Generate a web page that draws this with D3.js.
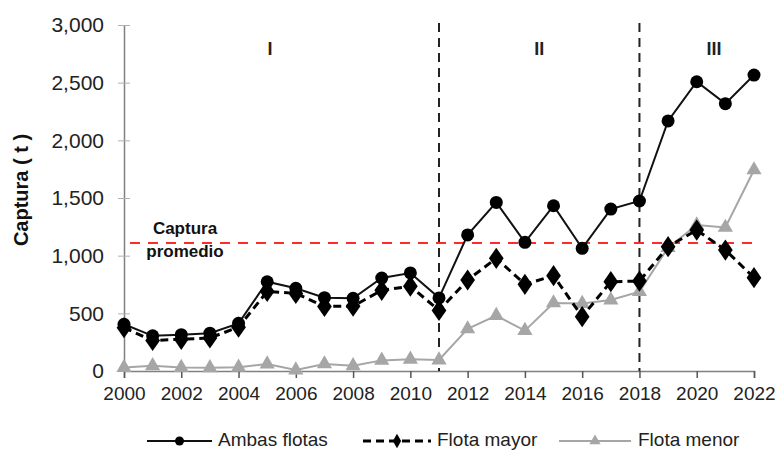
<!DOCTYPE html>
<html>
<head>
<meta charset="utf-8">
<script src="https://cdn.jsdelivr.net/npm/d3@7"></script>
<style>
  html, body { margin: 0; padding: 0; background: #fff; }
  svg { display: block; font-family: "Liberation Sans", Arial, sans-serif; }
</style>
</head>
<body>
<svg id="chart" width="777" height="450"></svg>
<script>
const years = d3.range(2000, 2023);
const ambasFlotas = [405, 305, 315, 328, 413, 774, 717, 636, 630, 806, 850, 634, 1180, 1462, 1116, 1433, 1064, 1404, 1474, 2168, 2508, 2318, 2566];
const flotaMayor  = [375, 265, 275, 287, 380, 690, 673, 560, 562, 700, 735, 525, 789, 977, 752, 826, 471, 774, 780, 1078, 1222, 1049, 809];
const flotaMenor  = [30, 45, 30, 28, 32, 60, 8, 61, 45, 92, 101, 95, 365, 480, 350, 590, 585, 615, 688, 1069, 1266, 1245, 1743];
const capturaPromedio = 1110;
const periodBreaks = [2011, 2018];
const periodLabels = [{label: "I", year: 2005.1}, {label: "II", year: 2014.5}, {label: "III", year: 2020.6}];
const yTicks = [0, 500, 1000, 1500, 2000, 2500, 3000];
const xTicks = d3.range(2000, 2023, 2);
const seriesNames = ["Ambas flotas", "Flota mayor", "Flota menor"];

const svg = d3.select("#chart");
const x = d3.scaleLinear().domain([2000, 2022]).range([124, 754]);
const y = d3.scaleLinear().domain([0, 3000]).range([371, 25]);

// y axis
const yAxis = d3.axisLeft(y).tickValues(yTicks).tickSize(0).tickPadding(20)
  .tickFormat(d3.format(","));
const gy = svg.append("g").attr("transform", "translate(124,0)").call(yAxis);
gy.select(".domain").attr("stroke", "#808080").attr("stroke-width", 1.5);
gy.selectAll(".tick text").attr("font-size", 21).attr("fill", "#222").attr("font-family", "Liberation Sans, Arial, sans-serif");
gy.selectAll(".tick").filter(d => d > 0).append("line")
  .attr("x1", -6).attr("x2", 6).attr("stroke", "#b0b0b0").attr("stroke-width", 1);

// x axis
const xAxis = d3.axisBottom(x).tickValues(xTicks).tickSize(7).tickPadding(9)
  .tickFormat(d3.format("d"));
const gx = svg.append("g").attr("transform", "translate(0,371)").call(xAxis);
gx.select(".domain").attr("stroke", "#808080").attr("stroke-width", 1.5);
gx.selectAll(".tick line").attr("stroke", "#555").attr("stroke-width", 1.5);
gx.selectAll(".tick text").attr("font-size", 19).attr("fill", "#222").attr("font-family", "Liberation Sans, Arial, sans-serif");

// y title
svg.append("text")
  .attr("transform", "translate(28,190) rotate(-90)")
  .attr("text-anchor", "middle")
  .attr("font-size", 20).attr("font-weight", "bold").attr("fill", "#111")
  .text("Captura ( t )");

// average line
svg.append("line")
  .attr("x1", x(2000) + 6).attr("x2", x(2022) + 4)
  .attr("y1", y(capturaPromedio)).attr("y2", y(capturaPromedio))
  .attr("stroke", "#ff2a2a").attr("stroke-width", 2).attr("stroke-dasharray", "10,8");
svg.append("text").attr("x", 185).attr("y", y(capturaPromedio) - 13)
  .attr("text-anchor", "middle").attr("dominant-baseline", "middle")
  .attr("font-size", 17).attr("font-weight", "bold").attr("fill", "#111").text("Captura");
svg.append("text").attr("x", 185).attr("y", y(capturaPromedio) + 10)
  .attr("text-anchor", "middle").attr("dominant-baseline", "middle")
  .attr("font-size", 17).attr("font-weight", "bold").attr("fill", "#111").text("promedio");

// period break lines
svg.selectAll(".brk").data(periodBreaks).enter().append("line")
  .attr("x1", d => x(d)).attr("x2", d => x(d))
  .attr("y1", y(3000) - 2).attr("y2", y(0))
  .attr("stroke", "#222").attr("stroke-width", 2).attr("stroke-dasharray", "9,6");

svg.selectAll(".plab").data(periodLabels).enter().append("text")
  .attr("x", d => x(d.year)).attr("y", 50)
  .attr("text-anchor", "middle").attr("dominant-baseline", "middle")
  .attr("font-size", 18).attr("font-weight", "bold").attr("fill", "#222")
  .text(d => d.label);

const line = d3.line().x((d, i) => x(years[i])).y(d => y(d));

// Flota menor
svg.append("path").datum(flotaMenor).attr("d", line)
  .attr("fill", "none").attr("stroke", "#a6a6a6").attr("stroke-width", 2);
const triSym = d3.symbol().type(d3.symbolTriangle).size(100);
svg.selectAll(".tri").data(flotaMenor).enter().append("path")
  .attr("d", triSym).attr("transform", (d, i) => `translate(${x(years[i])},${y(d)})`)
  .attr("fill", "#a6a6a6");

// Ambas flotas
svg.append("path").datum(ambasFlotas).attr("d", line)
  .attr("fill", "none").attr("stroke", "#111").attr("stroke-width", 2);
svg.selectAll(".circ").data(ambasFlotas).enter().append("circle")
  .attr("cx", (d, i) => x(years[i])).attr("cy", d => y(d)).attr("r", 6.5)
  .attr("fill", "#000");

// Flota mayor
svg.append("path").datum(flotaMayor).attr("d", line)
  .attr("fill", "none").attr("stroke", "#000").attr("stroke-width", 3).attr("stroke-dasharray", "8,5");
const diaSym = d3.symbol().type(d3.symbolDiamond).size(130);
svg.selectAll(".dia").data(flotaMayor).enter().append("path")
  .attr("d", diaSym).attr("transform", (d, i) => `translate(${x(years[i])},${y(d)}) scale(1.2,1)`)
  .attr("fill", "#000");

// legend
const legendItems = [
  {name: seriesNames[0], x0: 147, x1: 212, tx: 218, stroke: "#111", dash: null, w: 2, sym: "circle"},
  {name: seriesNames[1], x0: 363, x1: 431, tx: 437, stroke: "#000", dash: "8,5", w: 3, sym: "diamond"},
  {name: seriesNames[2], x0: 559, x1: 631, tx: 638, stroke: "#a6a6a6", dash: null, w: 2, sym: "triangle"}
];
const ly = 441;
const lg = svg.append("g");
legendItems.forEach(it => {
  lg.append("line").attr("x1", it.x0).attr("x2", it.x1).attr("y1", ly).attr("y2", ly)
    .attr("stroke", it.stroke).attr("stroke-width", it.w).attr("stroke-dasharray", it.dash);
  const cx = (it.x0 + it.x1) / 2;
  if (it.sym === "circle") {
    lg.append("circle").attr("cx", cx).attr("cy", ly).attr("r", 4.5).attr("fill", "#000");
  } else if (it.sym === "diamond") {
    lg.append("path").attr("d", d3.symbol().type(d3.symbolDiamond).size(60))
      .attr("transform", `translate(${cx},${ly})`).attr("fill", "#000");
  } else {
    lg.append("path").attr("d", d3.symbol().type(d3.symbolTriangle).size(55))
      .attr("transform", `translate(${cx},${ly})`).attr("fill", "#a6a6a6");
  }
  lg.append("text").attr("x", it.tx).attr("y", ly).attr("dominant-baseline", "middle")
    .attr("font-size", 19).attr("fill", "#222").text(it.name);
});
</script>
</body>
</html>
